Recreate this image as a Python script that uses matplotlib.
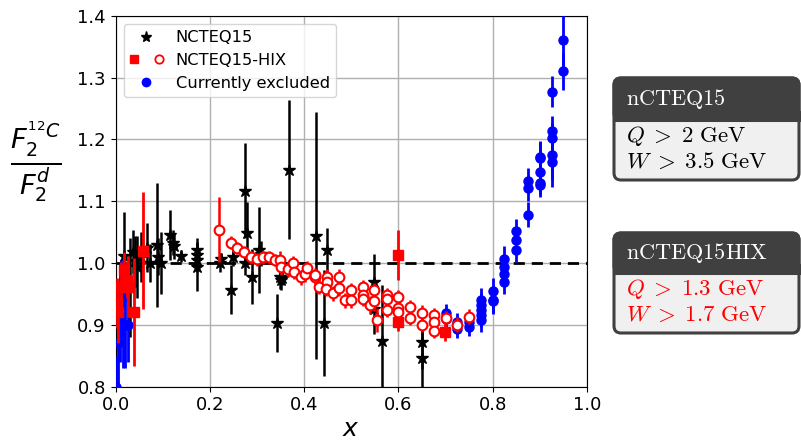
import numpy as np
import matplotlib
matplotlib.use('Agg')
import matplotlib.pyplot as plt
from matplotlib.patches import FancyBboxPatch, Rectangle
from matplotlib.legend_handler import HandlerTuple
from matplotlib.lines import Line2D

# NCTEQ15 data (black stars): x, ratio, error
star_x = [0.018, 0.030, 0.038, 0.041, 0.045, 0.055, 0.066, 0.073, 0.087, 0.091, 0.096,
          0.116, 0.121, 0.125, 0.138, 0.173, 0.173, 0.173, 0.173, 0.222, 0.224, 0.244,
          0.250, 0.275, 0.278, 0.275, 0.289, 0.305, 0.308, 0.343, 0.348, 0.351, 0.354,
          0.367, 0.425, 0.442, 0.449, 0.549, 0.549, 0.566, 0.651, 0.651]
star_y = [1.012, 0.960, 1.018, 1.003, 0.994, 1.010, 1.025, 1.000, 1.029, 1.010, 1.000,
          1.045, 1.033, 1.027, 1.011, 1.021, 1.013, 1.005, 0.994, 1.000, 1.006, 0.957,
          1.010, 1.117, 1.049, 1.000, 0.978, 1.021, 1.015, 0.903, 0.978, 0.972, 0.975,
          1.151, 1.044, 0.903, 1.021, 0.970, 0.925, 0.874, 0.873, 0.846]
star_e = [0.070, 0.080, 0.035, 0.040, 0.050, 0.040, 0.040, 0.030, 0.100, 0.030, 0.050,
          0.040, 0.020, 0.020, 0.010, 0.020, 0.020, 0.020, 0.040, 0.015, 0.010, 0.040,
          0.015, 0.077, 0.050, 0.020, 0.045, 0.070, 0.020, 0.047, 0.020, 0.015, 0.010,
          0.112, 0.200, 0.085, 0.035, 0.045, 0.040, 0.090, 0.045, 0.070]

# NCTEQ15-HIX filled squares
sq_x = [0.004, 0.006, 0.012, 0.018, 0.024, 0.027, 0.040, 0.059, 0.600, 0.600, 0.699]
sq_y = [0.935, 0.921, 0.962, 0.988, 0.973, 0.962, 0.921, 1.020, 1.013, 0.905, 0.889]
sq_e = [0.040, 0.050, 0.040, 0.030, 0.030, 0.050, 0.087, 0.095, 0.040, 0.015, 0.015]

# NCTEQ15-HIX open circles
oc_x = [0.220, 0.246, 0.258, 0.273, 0.287, 0.301, 0.313, 0.326, 0.338, 0.349, 0.352,
        0.365, 0.376, 0.379, 0.393, 0.402, 0.407, 0.423, 0.424, 0.432, 0.449, 0.449,
        0.446, 0.461, 0.475, 0.475, 0.487, 0.499, 0.499, 0.526, 0.526, 0.526, 0.540,
        0.549, 0.549, 0.554, 0.575, 0.575, 0.575, 0.600, 0.600, 0.600, 0.625, 0.625,
        0.651, 0.651, 0.675, 0.675, 0.675, 0.700, 0.725, 0.750]
oc_y = [1.054, 1.033, 1.024, 1.018, 1.009, 1.006, 1.009, 1.009, 1.005, 1.005, 0.993,
        0.990, 1.000, 0.986, 0.977, 0.982, 0.992, 0.977, 0.980, 0.962, 0.978, 0.970,
        0.958, 0.951, 0.978, 0.959, 0.940, 0.956, 0.940, 0.961, 0.948, 0.942, 0.932,
        0.956, 0.938, 0.908, 0.948, 0.942, 0.924, 0.945, 0.927, 0.921, 0.929, 0.911,
        0.920, 0.900, 0.916, 0.905, 0.890, 0.911, 0.900, 0.913]
oc_e = [0.053, 0.010, 0.010, 0.010, 0.010, 0.010, 0.010, 0.010, 0.010, 0.015, 0.012,
        0.012, 0.012, 0.012, 0.012, 0.012, 0.012, 0.012, 0.012, 0.012, 0.012, 0.012,
        0.012, 0.012, 0.012, 0.012, 0.012, 0.012, 0.012, 0.012, 0.012, 0.012, 0.015,
        0.012, 0.015, 0.020, 0.012, 0.012, 0.012, 0.012, 0.012, 0.012, 0.012, 0.012,
        0.012, 0.012, 0.012, 0.012, 0.012, 0.012, 0.012, 0.012]

# currently excluded (blue)
bl_x = [0.002, 0.006, 0.009, 0.012, 0.016, 0.021, 0.026,
        0.700, 0.700, 0.725, 0.725, 0.750, 0.750,
        0.775, 0.775, 0.775, 0.775, 0.775, 0.800, 0.800, 0.800,
        0.825, 0.825, 0.825, 0.825, 0.850, 0.850, 0.850,
        0.875, 0.875, 0.875, 0.900, 0.900, 0.900, 0.900, 0.900,
        0.925, 0.925, 0.925, 0.925, 0.925, 0.950, 0.950]
bl_y = [0.800, 0.870, 0.920, 0.940, 0.900, 0.900, 0.900,
        0.919, 0.910, 0.905, 0.894, 0.905, 0.897,
        0.940, 0.932, 0.924, 0.916, 0.908, 0.955, 0.940, 0.938,
        1.007, 0.994, 0.983, 0.970, 1.051, 1.038, 1.021,
        1.133, 1.121, 1.078, 1.172, 1.170, 1.147, 1.130, 1.126,
        1.277, 1.213, 1.202, 1.175, 1.163, 1.361, 1.310]
bl_e = [0.050, 0.080, 0.080, 0.065, 0.070, 0.070, 0.060,
        0.015, 0.015, 0.015, 0.015, 0.015, 0.015,
        0.020, 0.020, 0.020, 0.020, 0.020, 0.020, 0.020, 0.020,
        0.020, 0.020, 0.020, 0.020, 0.020, 0.020, 0.020,
        0.020, 0.020, 0.020, 0.025, 0.025, 0.025, 0.020, 0.020,
        0.025, 0.025, 0.025, 0.040, 0.040, 0.050, 0.030]

fig = plt.figure(figsize=(8.01, 4.42), dpi=100)
ax = fig.add_axes([0.1442, 0.1251, 0.5886, 0.8394])

ax.axhline(1.0, color='black', ls='--', lw=2, dashes=(4, 2.5), zorder=1)

ax.errorbar(star_x, star_y, yerr=star_e, fmt='*', color='black', ms=9,
            elinewidth=1.8, capsize=0, zorder=2)
ax.errorbar(bl_x, bl_y, yerr=bl_e, fmt='o', color='blue', ms=6.5,
            elinewidth=2, capsize=0, zorder=3)
ax.errorbar(sq_x, sq_y, yerr=sq_e, fmt='s', color='red', ms=7,
            elinewidth=2, capsize=0, zorder=4)
ax.errorbar(oc_x, oc_y, yerr=oc_e, fmt='o', color='red', mfc='white', mec='red',
            mew=1.5, ms=7, elinewidth=1.8, capsize=0, zorder=5)

ax.set_xlim(0, 1)
ax.set_ylim(0.8, 1.4)
ax.set_xticks([0.0, 0.2, 0.4, 0.6, 0.8, 1.0])
ax.set_yticks([0.8, 0.9, 1.0, 1.1, 1.2, 1.3, 1.4])
ax.tick_params(labelsize=13)
ax.grid(True, color='#b0b0b0', lw=1)
ax.set_axisbelow(True)
ax.set_xlabel('$x$', fontsize=18, labelpad=2)

fig.text(0.044, 0.636, r'$\frac{F_2^{^{12}C}}{F_2^d}$', fontsize=28,
         ha='center', va='center')

h_star = Line2D([], [], marker='*', color='black', ls='none', ms=8)
h_sq = Line2D([], [], marker='s', color='red', ls='none', ms=6)
h_oc = Line2D([], [], marker='o', color='red', mfc='white', mew=1.3, ls='none', ms=6)
h_bl = Line2D([], [], marker='o', color='blue', ls='none', ms=6)
ax.legend([h_star, (h_sq, h_oc), h_bl],
          ['NCTEQ15', 'NCTEQ15-HIX', 'Currently excluded'],
          handler_map={tuple: HandlerTuple(ndivide=None, pad=1.0)},
          loc='upper left', fontsize=11.7, handlelength=2.0, handletextpad=0.8,
          labelspacing=0.48, borderaxespad=0.5)

# info boxes on the right (pixel coords, converted to inches)
H = 442.0
def info_box(top, mid, bot, title, lines, color):
    left, right = 614, 799
    tr = fig.dpi_scale_trans
    outer = FancyBboxPatch(((left) / 100, (H - bot) / 100), (right - left) / 100,
                           (bot - top) / 100, boxstyle='round,pad=0,rounding_size=0.07',
                           fc='#f0f0f0', ec='#404040', lw=2.2, transform=tr)
    fig.patches.append(outer)
    head = FancyBboxPatch((left / 100, (H - mid) / 100), (right - left) / 100,
                          (mid - top) / 100, boxstyle='round,pad=0,rounding_size=0.07',
                          fc='#404040', ec='#404040', lw=2.2, transform=tr)
    fig.patches.append(head)
    sqr = Rectangle((left / 100, (H - mid) / 100), (right - left) / 100, 0.08,
                    fc='#404040', ec='#404040', lw=2.2, transform=tr)
    fig.patches.append(sqr)
    fig.text(626 / 801, 1 - ((top + mid) / 2) / H, title, color='white',
             fontsize=16, ha='left', va='center', math_fontfamily='cm')
    n = len(lines)
    step = (bot - mid) / (n + 0.4)
    for i, t in enumerate(lines):
        yy = mid + step * (i + 0.65)
        fig.text(626 / 801, 1 - yy / H, t, color=color, fontsize=16.5,
                 ha='left', va='center', math_fontfamily='cm')

info_box(78, 120, 180, r'$\mathrm{nCTEQ15}$',
         [r'$Q\;>\;2\ \mathrm{GeV}$', r'$W\;>\;3.5\ \mathrm{GeV}$'], 'black')
info_box(233, 273, 333, r'$\mathrm{nCTEQ15HIX}$',
         [r'$Q\;>\;1.3\ \mathrm{GeV}$', r'$W\;>\;1.7\ \mathrm{GeV}$'], 'red')

fig.savefig('out.png', dpi=100)
